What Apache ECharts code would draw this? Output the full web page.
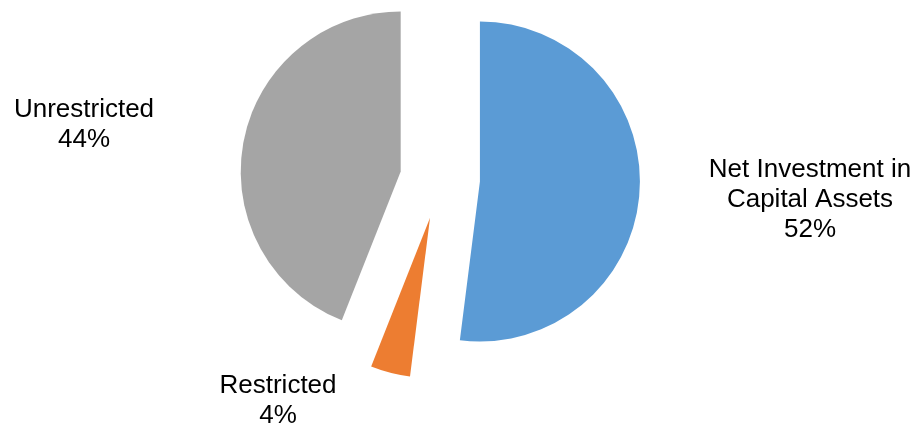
<!DOCTYPE html>
<html>
<head>
<meta charset="utf-8">
<script src="https://cdn.jsdelivr.net/npm/echarts@6/dist/echarts.min.js"></script>
<style>
html,body{margin:0;padding:0;background:#fff;}
#chart{width:917px;height:423px;}
</style>
</head>
<body>
<div id="chart"></div>
<script>
var categories = ['Net Investment in Capital Assets', 'Restricted', 'Unrestricted'];
var labelNames = ['Net Investment in\nCapital Assets', 'Restricted', 'Unrestricted'];
var values = [52, 4, 44];
var colors = ['#5B9BD5', '#ED7D31', '#A5A5A5'];
var labelSpots = [[810, 200], [278, 401], [84, 125]];

var pieBase = {
  type: 'pie',
  center: [440, 179],
  radius: 160,
  startAngle: 90,
  clockwise: true,
  emphasis: { disabled: true },
  labelLine: { show: false }
};

var chart = echarts.init(document.getElementById('chart'));
chart.setOption({
  animation: false,
  backgroundColor: '#fff',
  series: [
    Object.assign({}, pieBase, {
      name: 'slices',
      selectedMode: 'multiple',
      selectedOffset: 40,
      label: { show: false },
      data: categories.map(function (c, i) {
        return { name: c, value: values[i], selected: true, itemStyle: { color: colors[i] } };
      })
    }),
    Object.assign({}, pieBase, {
      name: 'labels',
      silent: true,
      selectedMode: false,
      itemStyle: { color: 'rgba(0,0,0,0)' },
      label: {
        show: true,
        position: 'outside',
        color: '#000',
        fontFamily: 'Liberation Sans, Arial, sans-serif',
        fontSize: 26,
        lineHeight: 30,
        align: 'center',
        formatter: function (p) { return labelNames[p.dataIndex] + '\n' + p.value + '%'; }
      },
      labelLayout: function (p) {
        var s = labelSpots[p.dataIndex];
        return { x: s[0], y: s[1], align: 'center', verticalAlign: 'middle' };
      },
      data: categories.map(function (c, i) {
        return { name: c, value: values[i] };
      })
    })
  ]
});
</script>
</body>
</html>
